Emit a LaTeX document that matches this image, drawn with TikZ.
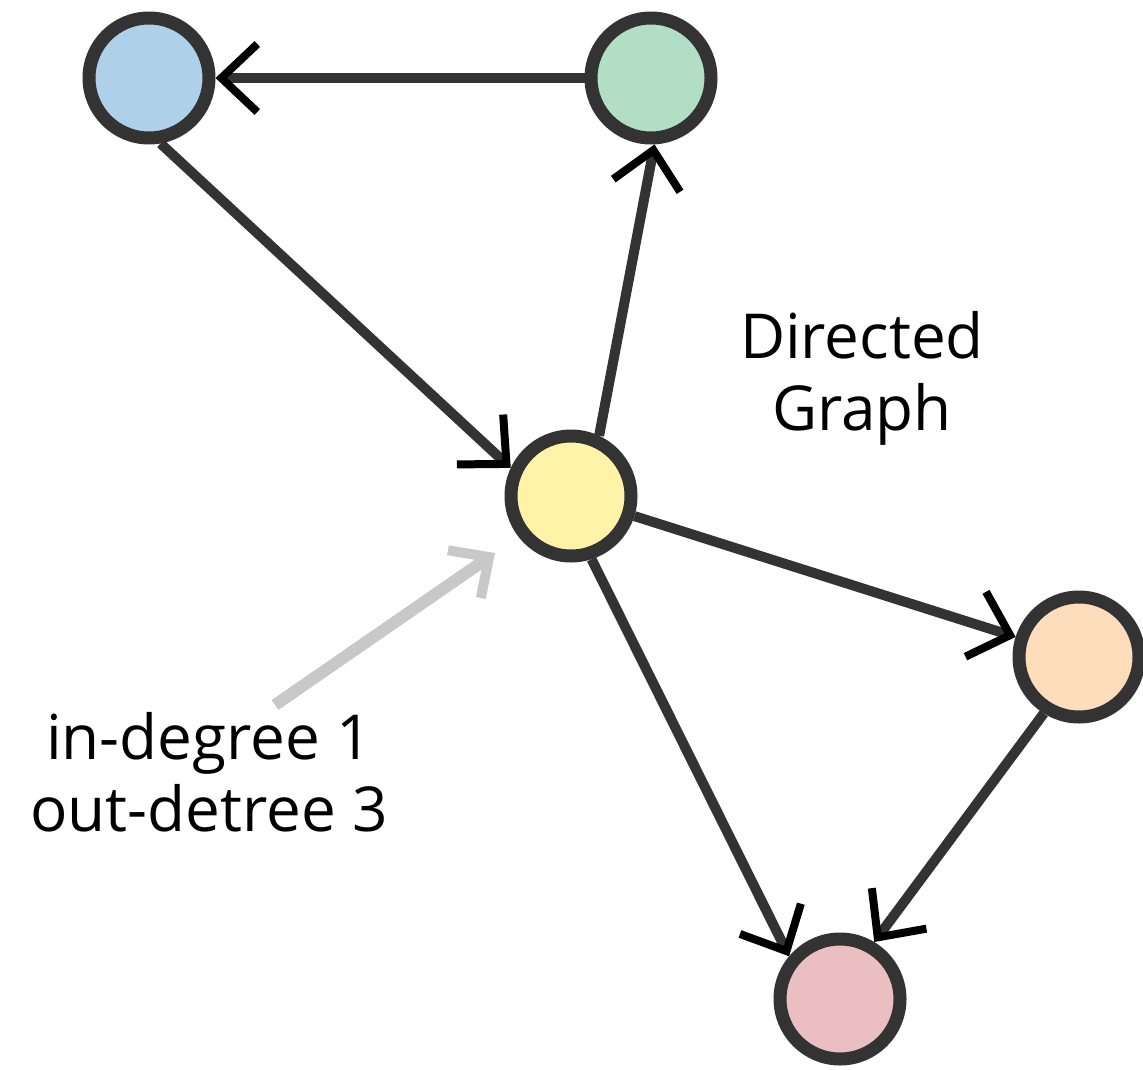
\documentclass[tikz,border=0pt]{standalone}
\usepackage{fontspec}
\setmainfont{Open Sans}
\usetikzlibrary{arrows.meta,shadows}
\definecolor{cblue}{HTML}{AED0E8}
\definecolor{cgreen}{HTML}{B3DEC6}
\definecolor{cyellow}{HTML}{FFF3A8}
\definecolor{corange}{HTML}{FFDDBC}
\definecolor{cpink}{HTML}{EBBFC1}
\definecolor{rim}{HTML}{333333}
\definecolor{hint}{HTML}{C8C8C8}
\tikzset{
  vertex/.style={circle, draw=rim, line width=13pt, minimum size=120pt, inner sep=0pt,
    drop shadow={opacity=0.15, shadow xshift=5pt, shadow yshift=-5pt}},
  edge/.style={draw=rim, line width=10pt,
    -{Straight Barb[length=36pt,width=68pt,line width=8pt,color=black]}},
  hintarrow/.style={draw=hint, line width=12pt,
    -{Straight Barb[length=30pt,width=58pt,line width=10pt]}},
  label/.style={font=\fontsize{62}{72}\selectfont, align=center, text=black}
}
\begin{document}
\begin{tikzpicture}[x=1pt,y=-1pt]
\useasboundingbox (0,0) rectangle (1143,1070);
\node[vertex, fill=cblue] (blue) at (149,78) {};
\node[vertex, fill=cgreen] (green) at (651,78) {};
\node[vertex, fill=cyellow] (yellow) at (571,496) {};
\node[vertex, fill=corange] (orange) at (1079,657) {};
\node[vertex, fill=cpink] (pink) at (840,999) {};
\draw[edge] (green.180) -- (blue.0);
\draw[edge] (blue.-80) -- (yellow.155);
\draw[edge] (yellow.65) -- (green.-87);
\draw[edge] (yellow) -- (orange);
\draw[edge] (yellow.-72) -- (pink.140);
\draw[edge] (orange.-122) -- (pink.59);
\node[label] (title) at (862,378) {Directed\\Graph};
\node[label] (deg) at (209,772) {in-degree 1\\out-detree 3};
\coordinate (hintstart) at (275,705);
\coordinate (hintend) at (495,553);
\draw[hintarrow] (hintstart) -- (hintend);
\end{tikzpicture}
\end{document}
